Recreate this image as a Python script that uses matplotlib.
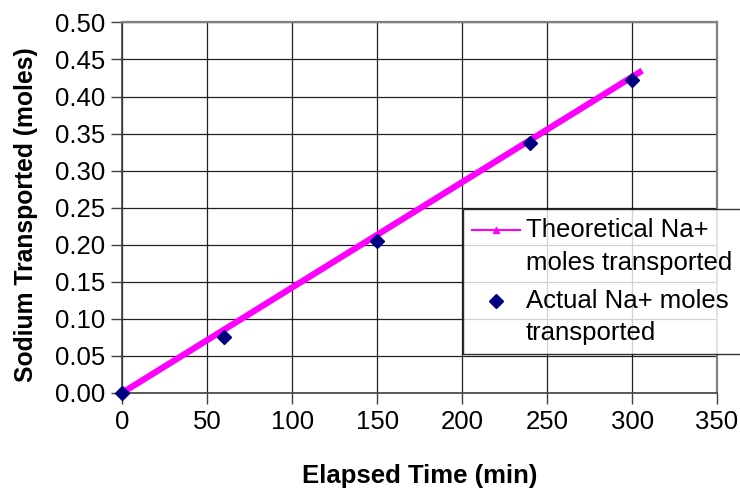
import matplotlib
matplotlib.use("Agg")
import matplotlib.pyplot as plt
from matplotlib.lines import Line2D

plt.rcParams["font.family"] = ["Liberation Sans", "DejaVu Sans"]

# theoretical line (end points)
theo_t = [0, 306]
theo_mol = [0.0, 0.435]

# measured points
act_t = [0, 60, 150, 240, 300]
act_mol = [0.0, 0.075, 0.205, 0.337, 0.422]

fig = plt.figure(figsize=(7.4, 4.88), dpi=100)
ax = fig.add_axes([0.165, 0.195, 0.804, 0.759])

ax.plot(theo_t, theo_mol, color="#FF00FF", lw=4.5, solid_capstyle="butt", zorder=3)
ax.plot(act_t, act_mol, "D", color="#000080", ms=7.5, zorder=4, clip_on=False)

ax.set_xlim(0, 350); ax.set_ylim(0, 0.5)
ax.set_xticks(range(0, 351, 50))
ax.set_yticks([i * 0.05 for i in range(11)])
ax.set_yticklabels([f"{i * 0.05:.2f}" for i in range(11)])
ax.tick_params(labelsize=18.5, length=8, width=1, color="#404040", pad=4)
ax.grid(color="#202020", lw=0.9)
ax.set_axisbelow(True)
for s in ("top", "right"):
    ax.spines[s].set_color("#808080"); ax.spines[s].set_linewidth(1.6)
for s in ("left", "bottom"):
    ax.spines[s].set_color("#404040"); ax.spines[s].set_linewidth(1.2)

ax.set_xlabel("Elapsed Time (min)", fontsize=18.5, fontweight="bold", labelpad=22)
ax.set_ylabel("Sodium Transported (moles)", fontsize=17.8, fontweight="bold")
ax.yaxis.set_label_coords(-0.142, 0.48)

handles = [Line2D([], [], color="#FF00FF", lw=1.5, marker="^", ms=4),
           Line2D([], [], ls="none", marker="D", color="#000080", ms=7.5)]
labels = ["Theoretical Na+\nmoles transported", "Actual Na+ moles\ntransported"]
leg = fig.legend(handles, labels, loc="upper left", bbox_to_anchor=(463 / 740, 1 - 209 / 488),
                 fontsize=18.5, frameon=True, fancybox=False, edgecolor="black",
                 handlelength=1.85, handletextpad=0.25, borderpad=0.35, labelspacing=0.55,
                 borderaxespad=0)
leg.get_frame().set_linewidth(1.0)
for t in leg.get_texts():
    t.set_linespacing(1.45)
# put each handle next to the first line of its label, like the original
for h in leg.legend_handles:
    h.set_ydata([y + 12 for y in h.get_ydata()])

fig.savefig("out.png", dpi=100)
